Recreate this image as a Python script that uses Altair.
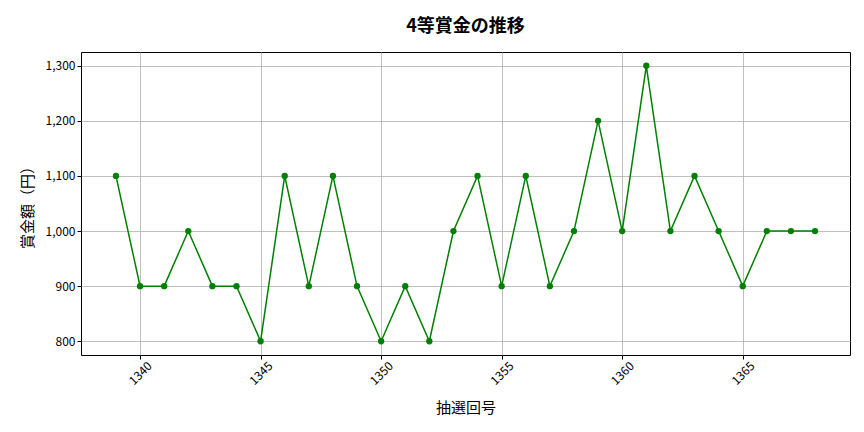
import altair as alt
import pandas as pd

draws = list(range(1339, 1369))
prizes = [1100, 900, 900, 1000, 900, 900, 800, 1100, 900, 1100,
          900, 800, 900, 800, 1000, 1100, 900, 1100, 900, 1000,
          1200, 1000, 1300, 1000, 1100, 1000, 900, 1000, 1000, 1000]
x_ticks = [1340, 1345, 1350, 1355, 1360, 1365]
y_ticks = [800, 900, 1000, 1100, 1200, 1300]

FONT = "Noto Sans CJK JP"

df = pd.DataFrame({"draw": draws, "prize": prizes})

chart = alt.Chart(df).mark_line(
    color="#008000", strokeWidth=1.5, clip=True,
    point=alt.OverlayMarkDef(color="#008000", size=40, filled=True, opacity=1),
).encode(
    x=alt.X("draw:Q", title="抽選回号",
            scale=alt.Scale(domain=[1337.55, 1369.45], nice=False, zero=False),
            axis=alt.Axis(values=x_ticks, format="d", labelAngle=-45,
                          labelAlign="center", labelBaseline="middle",
                          labelPadding=14, titlePadding=14)),
    y=alt.Y("prize:Q", title="賞金額（円）",
            scale=alt.Scale(domain=[775, 1325], nice=False, zero=False),
            axis=alt.Axis(values=y_ticks, format=",d", titlePadding=10)),
).properties(
    width=769,
    height=303,
    title=alt.TitleParams("4等賞金の推移", fontSize=18, font=FONT,
                          fontWeight="bold", offset=16),
    autosize=alt.AutoSizeParams(type="none"),
    padding={"left": 73, "top": 44, "right": 6, "bottom": 69},
).configure_view(
    stroke="black", strokeWidth=1,
).configure_axis(
    labelFont=FONT, titleFont=FONT, labelFontSize=12, titleFontSize=15,
    titleFontWeight="normal", labelColor="black", titleColor="black",
    grid=True, gridColor="#b0b0b0", gridWidth=0.8,
    domain=False, tickColor="black", tickSize=4,
)

chart.save("out.html", embed_options={"renderer": "svg", "actions": False})
